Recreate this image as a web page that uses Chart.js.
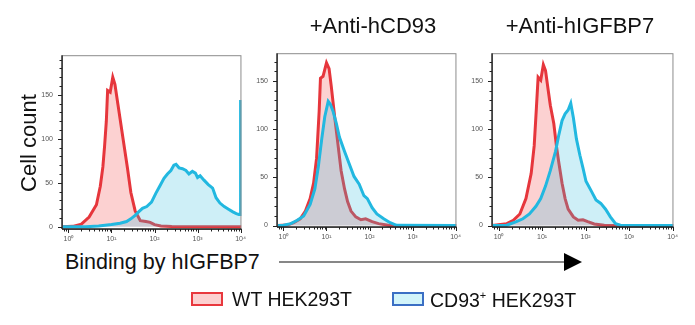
<!DOCTYPE html>
<html>
<head>
<meta charset="utf-8">
<script src="https://cdn.jsdelivr.net/npm/chart.js@4"></script>
<style>
  body { margin: 0; background: #fff; font-family: "Liberation Sans", Arial, sans-serif; }
  #page { position: relative; width: 695px; height: 325px; overflow: hidden; }
  canvas { position: absolute; }
  .txt { position: absolute; color: #111; white-space: nowrap; line-height: 1; }
  .box { position: absolute; width: 28px; height: 10px; border: 2.5px solid; }
</style>
</head>
<body>
<div id="page">
  <canvas id="p1" width="220" height="205" style="left:32px;top:42px"></canvas>
  <canvas id="p2" width="220" height="205" style="left:247px;top:40px"></canvas>
  <canvas id="p3" width="222" height="205" style="left:462px;top:40px"></canvas>

  <div class="txt" id="t2" style="left:373px;top:15px;font-size:22px;transform:translateX(-50%)"></div>
  <div class="txt" id="t3" style="left:580px;top:15px;font-size:22px;transform:translateX(-50%)"></div>
  <div class="txt" id="ylab" style="left:29px;top:143px;font-size:22px;transform:translate(-50%,-50%) rotate(-90deg)"></div>
  <div class="txt" id="xlab" style="left:65px;top:252px;font-size:21.5px"></div>
  <svg style="position:absolute;left:0;top:0" width="695" height="325">
    <line x1="279" y1="262" x2="566" y2="262" stroke="#111" stroke-width="1.2"/>
    <polygon points="564,253 582,262 564,271" fill="#000"/>
  </svg>

  <div class="box" style="left:191px;top:292px;background:#fcd0d0;border-color:#e8383e"></div>
  <div class="txt" id="leg1" style="left:232px;top:290px;font-size:19.5px"></div>
  <div class="box" style="left:392px;top:292px;background:#d2f4fa;border-color:#3b6fc4"></div>
  <div class="txt" id="leg2" style="left:430px;top:290px;font-size:19.5px"></div>
</div>
<script>
$(main);
function $(f){ window.addEventListener("load", f); }

// labels
const PANELTITLES = ["", "+Anti-hCD93", "+Anti-hIGFBP7"];
const SERIESNAMES = ["WT HEK293T", "CD93<sup style='font-size:11px'>+</sup> HEK293T"];
const YAXISTITLE = "Cell count";
const XAXISTITLE = "Binding by hIGFBP7";
const XTICKS = [0, 1, 2, 3, 4];
const XTICKLABELS = ["10⁰", "10¹", "10²", "10³", "10⁴"];
const YTICKS = [0, 50, 100, 150];

// x values are log10 of fluorescence
const WTX1 = [-0.15, 0.1, 0.3, 0.48, 0.65, 0.74, 0.8, 0.84, 0.88, 0.91, 0.97, 1.03, 1.08, 1.15, 1.26, 1.37, 1.45, 1.55, 1.67, 1.8, 1.9, 2.0, 2.15, 2.4, 4.02];
const WTY1 = [0, 0.5, 3, 11, 25, 46, 68, 92, 120, 155, 153, 170, 162, 139, 103, 67, 39, 18, 7, 6, 5, 2.5, 1, 0.3, 0];
const CDX1 = [-0.15, 0.4, 0.7, 1.0, 1.2, 1.35, 1.45, 1.55, 1.63, 1.72, 1.82, 1.93, 2.03, 2.13, 2.22, 2.3, 2.38, 2.45, 2.5, 2.57, 2.65, 2.73, 2.8, 2.88, 2.95, 3.0, 3.06, 3.15, 3.25, 3.35, 3.43, 3.52, 3.62, 3.72, 3.82, 3.9, 3.96, 3.99, 4.0];
const CDY1 = [0, 0, 1, 2.5, 4, 6, 9, 13, 17, 21, 23, 28, 38, 47, 55, 60, 64, 70, 71, 67, 66, 64, 60, 63, 61, 56, 58, 53, 48, 44, 33, 27, 23, 20, 17, 15, 14, 14, 144];

const WTX2 = [-0.15, 0.09, 0.24, 0.39, 0.51, 0.62, 0.7, 0.77, 0.83, 0.86, 0.92, 1.0, 1.06, 1.11, 1.19, 1.27, 1.34, 1.42, 1.49, 1.57, 1.68, 1.8, 1.91, 2.06, 2.21, 2.44, 4.02];
const WTY2 = [0, 0.5, 3, 7, 15, 28, 44, 70, 119, 153, 155, 169, 163, 145, 113, 83, 57, 38, 25, 15, 9, 6, 7, 4, 2, 0.3, 0];
const CDX2 = [-0.15, 0.0, 0.17, 0.32, 0.47, 0.62, 0.73, 0.81, 0.89, 0.96, 1.04, 1.09, 1.15, 1.23, 1.3, 1.42, 1.53, 1.64, 1.76, 1.87, 1.95, 2.06, 2.17, 2.33, 2.48, 2.63, 4.02];
const CDY2 = [0, 0.3, 2, 5.5, 10, 22, 38, 61, 90, 113, 129, 126, 119, 106, 92, 77, 64, 51, 43, 31, 28, 18.5, 12, 7, 3, 0.3, 0];

const WTX3 = [-0.15, 0.19, 0.34, 0.49, 0.63, 0.75, 0.82, 0.87, 0.91, 0.97, 1.03, 1.08, 1.14, 1.19, 1.27, 1.33, 1.38, 1.46, 1.53, 1.6, 1.72, 1.83, 1.94, 2.05, 2.2, 2.43, 4.02];
const WTY3 = [0, 2, 5.5, 12, 28, 54, 83, 122, 154, 151, 167, 161, 141, 125, 106, 83, 67, 44, 28, 17, 9, 5.5, 6, 4, 1.6, 0.3, 0];
const CDX3 = [-0.15, 0.19, 0.41, 0.56, 0.71, 0.86, 0.97, 1.08, 1.19, 1.31, 1.38, 1.46, 1.53, 1.6, 1.66, 1.72, 1.79, 1.87, 1.94, 2.01, 2.13, 2.24, 2.35, 2.46, 2.57, 2.69, 2.8, 4.02];
const CDY3 = [0, 0.3, 4, 7, 12, 20, 28, 41, 57, 77, 93, 109, 116, 120, 127, 112, 90, 73, 60, 46, 36, 26.5, 23, 17, 9, 2, 0.3, 0];

function pairs(xs, ys){
    return xs.map((x, i) => ({x: x, y: ys[i]}));
}

const axisMarks = {
    id: "axisMarks",
    afterDraw(chart){
        const ctx = chart.ctx;
        const a = chart.chartArea;
        const sx = chart.scales.x;
        const sy = chart.scales.y;
        ctx.save();
        ctx.strokeStyle = "#8c8c8c";
        ctx.lineWidth = 1;
        ctx.strokeRect(a.left + 0.5, a.top + 0.5, a.right - a.left - 1, a.bottom - a.top);
        ctx.strokeStyle = "#222";
        ctx.lineWidth = 1.4;
        ctx.beginPath();
        ctx.moveTo(a.left, a.bottom);
        ctx.lineTo(a.right, a.bottom);
        ctx.moveTo(a.left, a.top);
        ctx.lineTo(a.left, a.bottom);
        ctx.stroke();
        ctx.lineWidth = 1;
        ctx.beginPath();
        for (let n = -1; n <= 4; n++){
            for (let k = 1; k <= 9; k++){
                const v = n + Math.log10(k);
                if (v < sx.min || v > sx.max) continue;
                const px = Math.round(sx.getPixelForValue(v)) + 0.5;
                ctx.moveTo(px, a.bottom);
                ctx.lineTo(px, a.bottom + (k === 1 ? 4 : 2.5));
            }
        }
        for (let v = 0; v <= sy.max; v += 10){
            const py = Math.round(sy.getPixelForValue(v)) + 0.5;
            ctx.moveTo(a.left, py);
            ctx.lineTo(a.left - (v % 50 === 0 ? 4 : 2.5), py);
        }
        ctx.stroke();
        ctx.restore();
    }
};

function makePanel(id, wt, cd, ymin, ymax){
    new Chart(document.getElementById(id), {
        type: "line",
        data: {
            datasets: [
                {
                    label: "CD93+ HEK293T",
                    data: cd,
                    borderColor: "#22b8e0",
                    backgroundColor: "rgba(60,190,225,0.25)",
                    borderWidth: 3,
                    fill: "origin",
                    order: 1
                },
                {
                    label: "WT HEK293T",
                    data: wt,
                    borderColor: "#e6363c",
                    backgroundColor: "rgba(245,120,120,0.34)",
                    borderWidth: 3,
                    fill: "origin",
                    order: 2
                }
            ]
        },
        options: {
            responsive: false,
            animation: false,
            elements: { point: { radius: 0 }, line: { tension: 0 } },
            layout: { padding: { top: 2, right: 4, left: 0, bottom: 0 } },
            plugins: { legend: { display: false }, tooltip: { enabled: false } },
            scales: {
                x: {
                    type: "linear",
                    min: -0.15,
                    max: 4.02,
                    grid: { display: false, drawTicks: false },
                    border: { display: false },
                    afterBuildTicks: s => { s.ticks = XTICKS.map(v => ({value: v})); },
                    afterFit: s => { s.height = 18; },
                    ticks: {
                        padding: 6,
                        maxRotation: 0,
                        autoSkip: false,
                        color: "#555",
                        font: { size: 7 },
                        callback: v => XTICKLABELS[XTICKS.indexOf(v)]
                    }
                },
                y: {
                    min: ymin,
                    max: ymax,
                    grid: { display: false, drawTicks: false },
                    border: { display: false },
                    afterBuildTicks: s => { s.ticks = YTICKS.map(v => ({value: v})); },
                    afterFit: s => { s.width = 30; },
                    ticks: {
                        padding: 9,
                        color: "#555",
                        font: { size: 7 }
                    }
                }
            }
        },
        plugins: [axisMarks]
    });
}

function main(){
    document.getElementById("t2").textContent = PANELTITLES[1];
    document.getElementById("t3").textContent = PANELTITLES[2];
    document.getElementById("ylab").textContent = YAXISTITLE;
    document.getElementById("xlab").textContent = XAXISTITLE;
    document.getElementById("leg1").innerHTML = SERIESNAMES[0];
    document.getElementById("leg2").innerHTML = SERIESNAMES[1];
    Chart.defaults.font.family = "'Liberation Sans', Arial, sans-serif";

    makePanel("p1", pairs(WTX1, WTY1), pairs(CDX1, CDY1), -2.5, 195);
    makePanel("p2", pairs(WTX2, WTY2), pairs(CDX2, CDY2), -1.5, 179);
    makePanel("p3", pairs(WTX3, WTY3), pairs(CDX3, CDY3), -1.5, 179);
}
</script>
</body>
</html>
